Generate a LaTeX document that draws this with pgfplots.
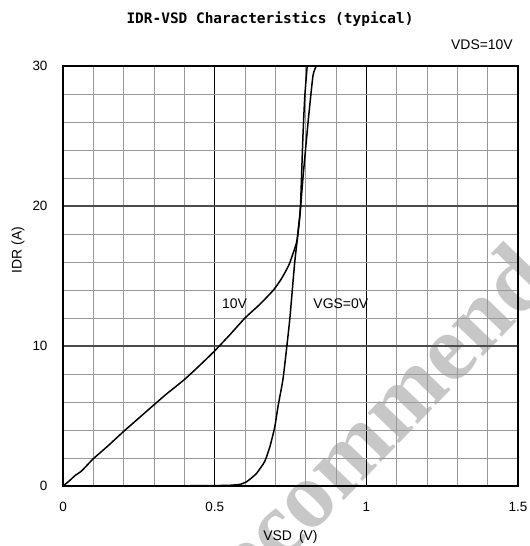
\documentclass[border=0pt]{standalone}
\usepackage{fontspec}
\setmainfont{Liberation Sans}
\newfontfamily\titlefont{DejaVu Sans Mono}
\newfontfamily\wmfont{Liberation Serif}
\usepackage{pgfplots}
\pgfplotsset{compat=1.18}
\begin{document}
\begin{tikzpicture}[x=1bp,y=1bp]
\path[use as bounding box] (-63,-60) rectangle (467,486);
\node[rotate=46, text=black!22, font=\wmfont\bfseries\fontsize{95}{100}\selectfont] at (326,78) {Recommended};
\begin{axis}[at={(0,0)}, anchor=south west, scale only axis,
  width=455bp, height=420bp,
  xmin=0, xmax=1.5, ymin=0, ymax=30,
  xtick={0,0.5,1,1.5}, xticklabels={0,0.5,1,1.5},
  ytick={0,10,20,30}, yticklabels={0,10,20,30},
  minor x tick num=4, minor y tick num=4,
  grid=both,
  major x grid style={black, line width=0.8bp},
  minor x grid style={black!40, line width=0.8bp},
  major y grid style={black!70, line width=1.1bp},
  minor y grid style={black!40, line width=0.8bp},
  major tick length=0pt, minor tick length=0pt,
  axis line style={black, line width=1.1bp},
  tick label style={font=\fontsize{13.5}{15}\selectfont},
  xticklabel shift=13bp,
  yticklabel shift=12bp,
  every axis title shift=0pt,
  title={\titlefont\bfseries IDR-VSD Characteristics (typical)},
  title style={at={(axis description cs:0.455,1.112)}, anchor=center, font=\fontsize{14.5}{16}\selectfont},
  xlabel={VSD\hspace{0.5em}(V)},
  xlabel style={at={(axis description cs:0.5,-0.121)}, anchor=center, font=\fontsize{14}{16}\selectfont},
  ylabel={IDR (A)},
  ylabel style={at={(axis description cs:-0.099,0.562)}, anchor=center, font=\fontsize{14}{16}\selectfont},
  clip=false,
]
\addplot[black, line width=1.5bp, smooth, tension=0.3] coordinates {
(0,0) (0.02,0.35) (0.04,0.75) (0.06,1.05) (0.08,1.5) (0.1,1.95) (0.15,2.9)
(0.2,3.9) (0.25,4.85) (0.3,5.8) (0.34,6.55) (0.4,7.6) (0.45,8.6) (0.5,9.65)
(0.55,10.8) (0.6,12.0) (0.65,13.0) (0.694,14.0) (0.72,14.8) (0.745,15.8)
(0.766,17.1) (0.772,17.6) (0.78,19.2) (0.783,20) (0.787,22.5) (0.791,25)
(0.797,27.8) (0.805,30)
};
\addplot[black, line width=1.5bp, smooth, tension=0.3] coordinates {
(0.42,0.03) (0.5,0.03) (0.55,0.05) (0.584,0.12) (0.605,0.3) (0.62,0.55)
(0.638,0.9) (0.665,1.75) (0.682,2.8) (0.698,4.2) (0.709,5.7) (0.725,7.6)
(0.737,9.8) (0.748,12) (0.764,16) (0.78,19.1) (0.791,22) (0.808,26)
(0.824,29.3) (0.835,30)
};
\node[anchor=west, inner sep=0pt, font=\fontsize{14}{16}\selectfont] at (axis cs:0.524,13.0) {10V};
\node[anchor=west, inner sep=0pt, font=\fontsize{14}{16}\selectfont] at (axis cs:0.825,13.0) {VGS=0V};
\node[anchor=east, inner sep=0pt, font=\fontsize{14}{16}\selectfont] at (axis description cs:0.989,1.05) {VDS=10V};
\end{axis}
\end{tikzpicture}
\end{document}
